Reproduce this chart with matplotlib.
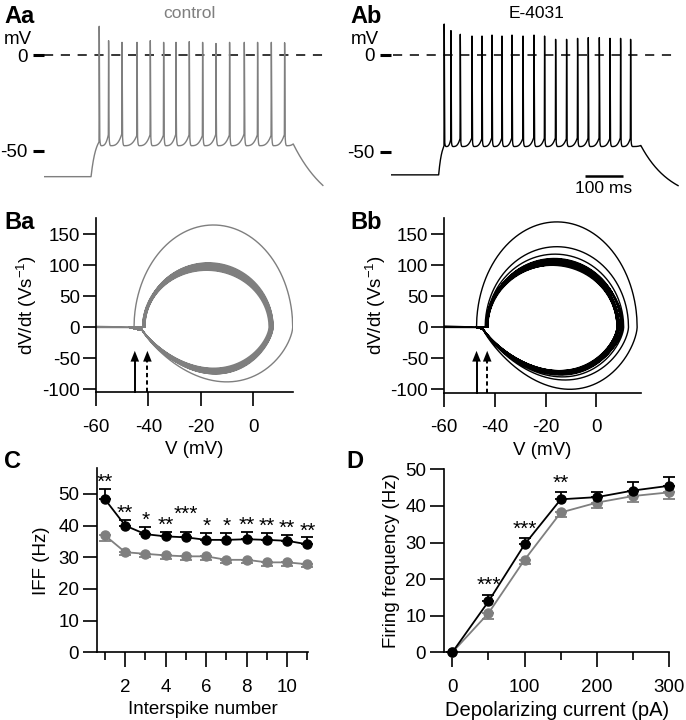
import numpy as np
import matplotlib
matplotlib.use("Agg")
import matplotlib.pyplot as plt

plt.rcParams['font.family'] = ['Liberation Sans', 'DejaVu Sans']
plt.rcParams['mathtext.fontset'] = 'custom'
plt.rcParams['mathtext.rm'] = 'Liberation Sans'
plt.rcParams['mathtext.default'] = 'regular'

GRAY = '#7f7f7f'

# ---------------- data: panel A (spike trains) ----------------
# control
ctrl_rest = -63.6
ctrl_step = [108.0, 640.0, 718.0]           # step on, step off, trace end (ms)
ctrl_spike_t = [128.9, 153.4, 188.7, 228.2, 263.2, 298.2, 330.8, 365.8, 400.8,
                436.0, 471.8, 510.5, 545.5, 581.6, 616.6]
ctrl_peak = [15.0, 7.5, 6.6, 6.6, 7.5, 6.6, 6.6, 7.0, 6.6, 6.0, 6.6, 6.6, 6.6, 6.6, 6.4]
ctrl_thr = [-45.5, -41.8, -41.4, -42.2, -41.7, -42.0, -41.5, -41.8, -42.2,
            -41.6, -41.9, -41.4, -41.8, -42.1, -41.7]
ctrl_rmax = [165, 100, 94, 99, 104, 93, 97, 103, 95, 92, 99, 96, 101, 94, 97]
ctrl_dmax = [88, 72, 68, 71, 75, 67, 70, 75, 69, 66, 72, 70, 74, 68, 70]
ctrl_vend, ctrl_trough, ctrl_preoff = -43.0, -47.5, -46.5
ctrl_decay = [40.0, 100.0]                  # amplitude (mV), tau (ms)

# E-4031
e_rest = -62.0
e_step = [107.0, 639.0, 737.0]
e_spike_t = [121.0, 138.7, 163.2, 194.0, 220.3, 246.6, 272.9, 299.2, 328.2, 357.1,
             385.0, 414.0, 442.9, 471.8, 500.0, 529.0, 557.1, 585.0, 611.3]
e_peak = [16.0, 12.6, 10.7, 9.8, 9.8, 10.3, 9.8, 10.3, 9.8, 10.3, 9.8, 8.1, 8.1,
          8.6, 9.0, 9.0, 8.6, 8.6, 8.1]
e_thr = [-47.2, -43.8, -43.3, -43.0, -43.4, -42.8, -43.1, -43.0, -43.3, -42.8,
         -43.1, -43.0, -43.4, -42.9, -43.1, -43.0, -43.3, -42.9, -43.1]
e_rmax = [170, 130, 118, 111, 108, 105, 110, 103, 107, 101, 109, 102, 105, 104,
          107, 101, 105, 103, 100]
e_dmax = [100, 85, 80, 77, 75, 73, 76, 72, 74, 71, 75, 71, 73, 72, 74, 70, 72, 72, 70]
e_vend, e_trough, e_preoff = -45.0, -47.4, -46.8
e_decay = [29.4, 80.0]

# panel B threshold arrows (mV): first spike (solid), later spikes (dashed)
ctrl_arrows = [-45.2, -40.4]
e_arrows = [-47.2, -43.0]

# ---------------- data: panel C ----------------
isi_n = [1, 2, 3, 4, 5, 6, 7, 8, 9, 10, 11]
ctrl_iff = [36.9, 31.6, 31.1, 30.6, 30.3, 30.3, 29.2, 29.2, 28.4, 28.4, 27.8]
ctrl_iff_err = [1.9, 0.9, 1.0, 1.0, 1.0, 1.1, 1.0, 1.0, 1.0, 1.0, 1.0]
e_iff = [48.3, 40.0, 37.3, 36.6, 36.3, 35.5, 35.5, 35.7, 35.5, 35.2, 34.1]
e_iff_err = [3.2, 1.8, 2.4, 1.5, 1.6, 2.1, 2.1, 2.4, 2.1, 1.9, 2.2]
iff_stars = ['**', '**', '*', '**', '***', '*', '*', '**', '**', '**', '**']

# ---------------- data: panel D ----------------
current = [0, 50, 100, 150, 200, 250, 300]
ctrl_ff = [0, 10.7, 25.3, 38.2, 40.9, 42.7, 43.7]
ctrl_ff_err = [0, 1.6, 1.1, 1.1, 1.4, 1.5, 1.9]
e_ff = [0, 13.9, 29.5, 41.8, 42.4, 44.2, 45.5]
e_ff_err = [0, 1.8, 1.7, 1.9, 1.5, 2.2, 2.3]
ff_stars = ['', '***', '***', '**', '', '', '']


# ---------------- waveform helpers ----------------
def spike_shape(vth, vpk, vend, rmax, dmax):
    n = 500
    v_up = np.linspace(vth, vpk, n)
    u = (v_up - vth) / (vpk - vth)
    h = np.clip(u, 0, 1) ** 0.5 * np.clip(1 - u, 0, 1) ** 0.5
    r_up = rmax * h / h.max()
    v_dn = np.linspace(vpk, vend, n)[1:]
    w = (v_dn - vend) / (vpk - vend)
    s = np.clip(w, 0, 1) ** 0.85 * np.clip(1 - w, 0, 1) ** 0.65
    r_dn = -dmax * s / s.max()
    v = np.concatenate([v_up, v_dn])
    r = np.concatenate([r_up, r_dn])
    dv = np.abs(np.diff(v))
    rm = np.maximum(np.abs(0.5 * (r[1:] + r[:-1])), 4.0)
    t = np.concatenate([[0.0], np.cumsum(dv / rm)])
    return t, v, r


def build_cell(step, v_rest, times, peaks, thr, rmax, dmax, v_end, trough, pre_off, decay):
    t_on, t_off, t_end = step
    T, V, R = [], [], []

    def add(t, v, r=None):
        if r is None:
            r = np.gradient(v, t)
        T.append(t); V.append(v); R.append(r)

    add(np.array([-30.0, t_on]), np.array([v_rest, v_rest]), np.zeros(2))
    x = np.linspace(0, 1, 80)
    add(t_on + x * (times[0] - t_on),
        v_rest + (thr[0] - v_rest) * (1 - np.exp(-x / 0.6)) / (1 - np.exp(-1 / 0.6)))
    n = len(times)
    for i in range(n):
        ts, vs, rs = spike_shape(thr[i], peaks[i], v_end, rmax[i], dmax[i])
        ts = ts + times[i]
        add(ts, vs, rs)
        te = ts[-1]
        x = np.linspace(0, 4, 40)
        add(te + x, trough + (v_end - trough) * np.exp(-x / 1.0))
        t0 = te + 4
        v0 = trough + (v_end - trough) * np.exp(-4)
        t1 = times[i + 1] if i < n - 1 else t_off
        v1 = thr[i + 1] if i < n - 1 else pre_off
        x = np.linspace(0, 1, 80)
        add(t0 + x * (t1 - t0), v0 + (v1 - v0) * x ** 3)
    x = np.linspace(0, t_end - t_off, 150)
    add(t_off + x, pre_off - decay[0] * (1 - np.exp(-x / decay[1])))
    return np.concatenate(T), np.concatenate(V), np.concatenate(R)


ctrl_T, ctrl_V, ctrl_R = build_cell(ctrl_step, ctrl_rest, ctrl_spike_t, ctrl_peak, ctrl_thr,
                                    ctrl_rmax, ctrl_dmax, ctrl_vend, ctrl_trough,
                                    ctrl_preoff, ctrl_decay)
e_T, e_V, e_R = build_cell(e_step, e_rest, e_spike_t, e_peak, e_thr, e_rmax, e_dmax,
                           e_vend, e_trough, e_preoff, e_decay)

# ---------------- figure ----------------
W, H = 686, 720
fig = plt.figure(figsize=(W / 100, H / 100), dpi=100)


def add_ax(l, t, r, b):
    return fig.add_axes([l / W, 1 - b / H, (r - l) / W, (b - t) / H])


TICK_FS = 13.5
LAB_FS = 13.5
PANEL_FS = 17


def panel_label(x, y, s):
    fig.text(x / W, 1 - y / H, s, fontsize=PANEL_FS, fontweight='bold', va='top', ha='left')


# ---- Panel A ----
def setup_A(ax, xl, yl, dash_range):
    ax.set_xlim(*xl)
    ax.set_ylim(*yl)
    for s in ax.spines.values():
        s.set_visible(False)
    ax.set_xticks([])
    ax.set_yticks([0, -50])
    ax.set_yticklabels(['0', '-50'])
    ax.tick_params(axis='y', length=8, width=2.2, pad=4, labelsize=TICK_FS)
    ax.axhline(0, xmin=dash_range[0], xmax=dash_range[1], color='k', lw=1.1,
               dashes=(6, 5), zorder=1)


axAa = add_ax(44, 20, 330, 200)
setup_A(axAa, (-15.8, 736.8), (-75.8, 18.3), (0.0, 0.98))
axAa.plot(ctrl_T, ctrl_V, color=GRAY, lw=1.0, zorder=2)
fig.text(189 / W, 1 - 13 / H, 'control', color=GRAY, fontsize=12.5, ha='center', va='center')
fig.text(4 / W, 1 - 39 / H, 'mV', fontsize=TICK_FS, ha='left', va='center')
panel_label(4, 5, 'Aa')

axAb = add_ax(391, 20, 680, 200)
setup_A(axAb, (-18.4, 742.1), (-75.0, 18.1), (0.007, 0.976))
axAb.plot(e_T, e_V, color='k', lw=1.0, zorder=2)
axAb.plot([492, 592], [-62.4, -62.4], color='k', lw=1.8, solid_capstyle='butt')
axAb.text(542, -65.0, '100 ms', ha='center', va='top', fontsize=12.5)
fig.text(537 / W, 1 - 13 / H, 'E-4031', color='k', fontsize=12.5, ha='center', va='center')
fig.text(351 / W, 1 - 39 / H, 'mV', fontsize=TICK_FS, ha='left', va='center')
panel_label(350, 5, 'Ab')


# ---- Panel B ----
def setup_axes(ax):
    for s in ['top', 'right']:
        ax.spines[s].set_visible(False)
    for s in ['left', 'bottom']:
        ax.spines[s].set_linewidth(1.2)
    ax.tick_params(labelsize=TICK_FS, width=1.2)


def setup_B(ax, xl, yl):
    setup_axes(ax)
    ax.set_xlim(*xl)
    ax.set_ylim(*yl)
    ax.set_xticks([-60, -40, -20, 0])
    ax.set_xticklabels(['-60', '-40', '-20', '0'])
    ax.set_yticks([-100, -50, 0, 50, 100, 150])
    ax.set_yticklabels(['-100', '-50', '0', '50', '100', '150'])
    ax.tick_params(axis='x', length=10, pad=9)
    ax.tick_params(axis='y', length=9.5, pad=2)
    ax.set_xlabel('V (mV)', fontsize=LAB_FS, labelpad=4)
    ax.set_ylabel('dV/dt (Vs$^{-1}$)', fontsize=LAB_FS, labelpad=2)


def arrows(ax, xs, ybot):
    for v, ls in zip(xs, ['-', (0, (2.2, 1.6))]):
        ax.plot([v, v], [ybot, -52], color='k', lw=1.4, ls=ls, clip_on=False, zorder=4)
        ax.annotate('', xy=(v, -38), xytext=(v, -54),
                    arrowprops=dict(arrowstyle='-|>,head_length=0.55,head_width=0.22',
                                    color='k', lw=0.01, mutation_scale=14,
                                    shrinkA=0, shrinkB=0), zorder=4)


axBa = add_ax(96, 218.3, 292.7, 392.3)
setup_B(axBa, (-60, 15), (-104.8, 175.8))
axBa.plot(ctrl_V, ctrl_R, color=GRAY, lw=1.0)
arrows(axBa, ctrl_arrows, -104.8)
panel_label(4, 211, 'Ba')

axBb = add_ax(444, 218, 640.7, 392.7)
setup_B(axBb, (-60, 17.4), (-105.5, 176.3))
axBb.plot(e_V, e_R, color='k', lw=1.0)
arrows(axBb, e_arrows, -105.5)
panel_label(350, 211, 'Bb')

# ---- Panel C ----
axC = add_ax(97.3, 468.3, 308, 652.3)
setup_axes(axC)
axC.set_xlim(0.62, 11.03)
axC.set_ylim(0, 58.1)
axC.set_yticks([0, 10, 20, 30, 40, 50])
axC.set_xticks([2, 4, 6, 8, 10])
axC.set_xticks([1, 3, 5, 7, 9, 11], minor=True)
axC.tick_params(axis='y', length=10, pad=3)
axC.tick_params(axis='x', which='major', length=11, pad=8)
axC.tick_params(axis='x', which='minor', length=5.5, width=1.2)
z = np.zeros(len(isi_n))
axC.errorbar(isi_n, ctrl_iff, yerr=[ctrl_iff_err, z], fmt='-o', color=GRAY, ms=6.5,
             lw=1.3, elinewidth=1.3, capsize=4, capthick=1.3, clip_on=False, zorder=3)
axC.errorbar(isi_n, e_iff, yerr=[z, e_iff_err], fmt='-o', color='k', ms=6.5,
             lw=1.3, elinewidth=1.3, capsize=4, capthick=1.3, clip_on=False, zorder=4)
for i, s in enumerate(iff_stars):
    extra = 3.5 if s == '***' else 0.0
    axC.text(isi_n[i], e_iff[i] + e_iff_err[i] + 0.3 + extra, s, ha='center',
             va='baseline', fontsize=15)
axC.set_xlabel('Interspike number', fontsize=LAB_FS, labelpad=4)
axC.set_ylabel('IFF (Hz)', fontsize=LAB_FS, labelpad=6)
panel_label(4, 450, 'C')

# ---- Panel D ----
axD = add_ax(444.3, 469.3, 669.3, 652.3)
setup_axes(axD)
axD.set_xlim(-11.1, 300)
axD.set_ylim(0, 50)
axD.set_yticks([0, 10, 20, 30, 40, 50])
axD.set_xticks([0, 100, 200, 300])
axD.set_xticks([50, 150, 250], minor=True)
axD.tick_params(axis='y', length=10, pad=3)
axD.tick_params(axis='x', which='major', length=11, pad=8)
axD.tick_params(axis='x', which='minor', length=5.5, width=1.2)
z = np.zeros(len(current))
axD.errorbar(current, ctrl_ff, yerr=[ctrl_ff_err, z], fmt='-o', color=GRAY, ms=6.5,
             lw=1.3, elinewidth=1.3, capsize=4, capthick=1.3, clip_on=False, zorder=3)
axD.errorbar(current, e_ff, yerr=[z, e_ff_err], fmt='-o', color='k', ms=6.5,
             lw=1.3, elinewidth=1.3, capsize=4, capthick=1.3, clip_on=False, zorder=4)
for i, s in enumerate(ff_stars):
    if s:
        axD.text(current[i], e_ff[i] + e_ff_err[i] + 1.0, s, ha='center',
                 va='baseline', fontsize=15)
axD.set_xlabel('Depolarizing current (pA)', fontsize=14.5, labelpad=4)
axD.set_ylabel('Firing frequency (Hz)', fontsize=LAB_FS, labelpad=4)
panel_label(346, 450, 'D')

fig.savefig('out.png', dpi=100)
